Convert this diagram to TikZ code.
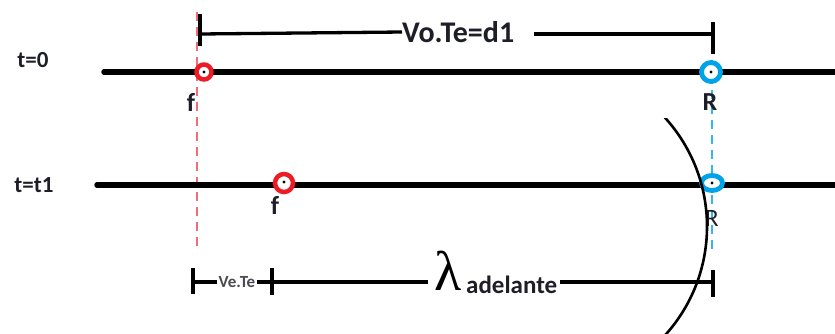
\documentclass[tikz,border=0pt]{standalone}
\usepackage{fontspec}
\usetikzlibrary{shapes.geometric}
\setmainfont{Carlito}
\newfontfamily\lamfont{Liberation Serif}
\definecolor{pred}{RGB}{237,28,36}
\definecolor{pblue}{RGB}{0,162,232}
\definecolor{lred}{RGB}{240,110,120}
\definecolor{txt}{RGB}{30,30,40}
\begin{document}
\begin{tikzpicture}[x=1pt,y=-1pt,
  axis/.style={line width=5.5pt,line cap=round},
  dim/.style={line width=3.3pt},
  lbl/.style={inner sep=0pt,text=txt,font=\bfseries\fontsize{26}{28}\selectfont},
  redring/.style={draw=pred,line width=4.5pt,fill=white},
  bluering/.style={draw=pblue,line width=4.8pt,fill=white}]
\useasboundingbox (0,0) rectangle (835,333);
% guide lines
\draw[lred,line width=1.3pt,dash pattern=on 9pt off 6pt] (197,12) coordinate (rt) -- (197,246) coordinate (rb);
\draw[pblue!80,line width=1.2pt,dash pattern=on 9pt off 6pt] (712,30) coordinate (bt) -- (712,250) coordinate (bb);
% axes
\coordinate (a1l) at (104,72); \coordinate (a1r) at (840,72);
\coordinate (a2l) at (97,185); \coordinate (a2r) at (840,185);
\draw[axis] (a1l) -- (a1r);
\draw[axis] (a2l) -- (a2r);
% labels t
\node[inner sep=0pt,text=txt,font=\bfseries\fontsize{23}{25}\selectfont] (t0) at (33,60) {t=0};
\node[inner sep=0pt,text=txt,font=\bfseries\fontsize{23}{25}\selectfont] (t1) at (34,185) {t=t1};
% top dimension
\coordinate (d1a) at (200,34); \coordinate (d1b) at (713,34);
\node[inner sep=0pt,text=txt,font=\bfseries\fontsize{30}{32}\selectfont,anchor=west] (d1t) at (402,32) {Vo.Te=d1};
\draw[dim] (d1a) -- (d1t.west);
\draw[dim] (534,34) coordinate (d1c) -- (d1b);
\draw[dim] (200,14) coordinate (tk1a) -- (200,46) coordinate (tk1b);
\draw[dim] (713,22) coordinate (tk2a) -- (713,54) coordinate (tk2b);
% particles
\node[circle,redring,minimum size=15pt,inner sep=0pt] (f0) at (204,72) {};
\fill (f0.center) circle (1.6pt);
\node[circle,bluering,minimum size=19pt,inner sep=0pt] (r0) at (711,72) {};
\fill (r0.center) circle (1.6pt);
\node[circle,redring,minimum size=18pt,inner sep=0pt] (f1) at (284,183) {};
\fill (f1.center) ++(0,-1) circle (1.6pt);
\node[ellipse,bluering,minimum width=21pt,minimum height=15pt,inner sep=0pt] (r1) at (712,183) {};
\fill (r1.center) circle (1.6pt);
\node[lbl] (lf0) at (191,102) {f};
\node[lbl] (lr0) at (710,102) {R};
\node[lbl] (lf1) at (275,205) {f};
\node[inner sep=0pt,text=txt,font=\fontsize{25}{27}\selectfont] (lr1) at (712,218) {R};
% wavefront arc
\begin{scope}
\clip (600,118) rectangle (835,340);
\draw[line width=2.6pt] (545,226.5) circle (162);
\end{scope}
% bottom dimension
\draw[dim] (193,268) coordinate (tk3a) -- (193,294) coordinate (tk3b);
\draw[dim] (272,268) coordinate (tk4a) -- (272,295) coordinate (tk4b);
\draw[dim] (713,270) coordinate (tk5a) -- (713,297) coordinate (tk5b);
\node[inner sep=1pt,fill=white,text=txt!80,font=\bfseries\fontsize{17}{19}\selectfont] (vt) at (237,282) {Ve.Te};
\draw[dim] (tk3a|-vt) -- (vt.west);
\draw[dim] (vt.east) -- (tk4a|-vt);
\draw[dim] (tk4a|-vt) -- (428,282) coordinate (la);
\draw[dim] (560,282) coordinate (lb) -- (tk5a|-vt);
\node[inner sep=0pt,anchor=base west,font=\lamfont\fontsize{56}{60}\selectfont] (lam) at (434,290) {λ};
\node[inner sep=0pt,anchor=base west,text=txt,font=\bfseries\fontsize{25}{27}\selectfont] (adel) at (466,293) {adelante};
\end{tikzpicture}
\end{document}
